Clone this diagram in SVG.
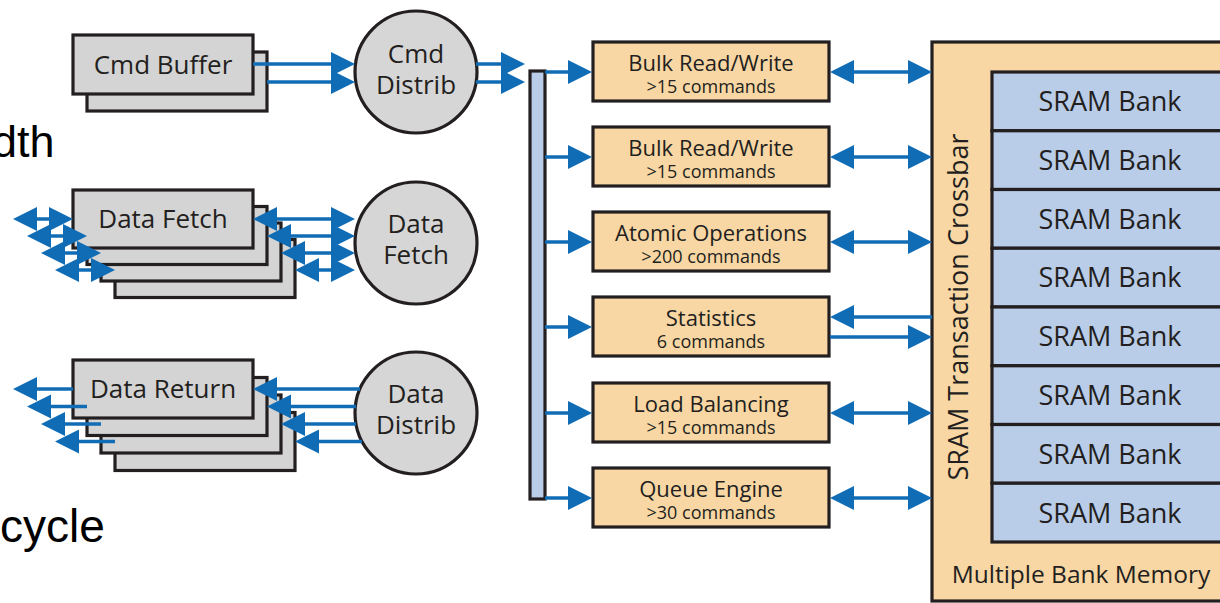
<svg xmlns="http://www.w3.org/2000/svg" width="1220" height="603" viewBox="0 0 1220 603">
  <style>
    .bg { font-family: "Liberation Sans", Arial, sans-serif; font-size: 45px; fill: #000; }
    .lbl { font-family: "Open Sans", "Noto Sans", sans-serif; fill: #231f20; text-anchor: middle; }
    .box { fill: #d4d4d4; stroke: #231f20; stroke-width: 3.2; }
    .circ { fill: #d6d6d6; stroke: #231f20; stroke-width: 3.2; }
    .eng { fill: #f8d7a4; stroke: #231f20; stroke-width: 3.2; }
    .mem { fill: #f8d7a4; stroke: #231f20; stroke-width: 3.2; }
    .bank { fill: #b9cce8; stroke: #231f20; stroke-width: 3.2; }
    .bar { fill: #b9cce8; stroke: #231f20; stroke-width: 3.2; }
    .t1 { font-size: 26px; }
    .tc { font-size: 26px; }
    .te { font-size: 22px; }
    .ts { font-size: 18px; }
    .tb { font-size: 27px; }
    .tm { font-size: 24.5px; }
    #connectors line { stroke: #106cb4; stroke-width: 3.6; fill: none; }
    .one { marker-end: url(#head); }
    .two { marker-start: url(#head); marker-end: url(#head); }
  </style>
  <defs>
    <marker id="head" markerUnits="userSpaceOnUse" markerWidth="26" markerHeight="26" refX="13" refY="12" orient="auto-start-reverse" viewBox="0 0 26 26">
      <path d="M0,0 L24,12 L0,24 Z" fill="#106cb4"/>
    </marker>
  </defs>

  <rect width="1220" height="603" fill="#ffffff"/>

  <!-- slide text partly hidden behind the figure -->
  <text class="bg" x="-8" y="157">dth</text>
  <text class="bg" x="0" y="542" style="font-size:46px">cycle</text>

  <!-- command buffer (two stacked) -->
  <g id="cmd-buffer">
    <rect class="box" x="87" y="52" width="180" height="59"/>
    <rect class="box" x="73" y="35" width="180" height="59"/>
    <text class="lbl t1" x="163" y="74">Cmd Buffer</text>
  </g>

  <!-- data fetch (four stacked) -->
  <g id="data-fetch">
    <rect class="box" x="115" y="239.5" width="180" height="58"/>
    <rect class="box" x="101" y="223" width="180" height="58"/>
    <rect class="box" x="87" y="206.5" width="180" height="58"/>
    <rect class="box" x="73" y="190" width="180" height="58"/>
    <text class="lbl t1" x="163" y="228">Data Fetch</text>
  </g>

  <!-- data return (four stacked) -->
  <g id="data-return">
    <rect class="box" x="115" y="412.5" width="180" height="58"/>
    <rect class="box" x="101" y="395" width="180" height="58"/>
    <rect class="box" x="87" y="377.5" width="180" height="58"/>
    <rect class="box" x="73" y="360" width="180" height="58"/>
    <text class="lbl t1" x="163" y="398">Data Return</text>
  </g>

  <g id="cmd-distrib">
    <circle class="circ" cx="416" cy="72" r="61"/>
    <text class="lbl tc" x="416" y="63">Cmd</text>
    <text class="lbl tc" x="416" y="94">Distrib</text>
  </g>

  <g id="data-fetch-unit">
    <circle class="circ" cx="416" cy="243" r="61"/>
    <text class="lbl tc" x="416" y="233">Data</text>
    <text class="lbl tc" x="416" y="264">Fetch</text>
  </g>

  <g id="data-distrib">
    <circle class="circ" cx="416" cy="413" r="61"/>
    <text class="lbl tc" x="416" y="403">Data</text>
    <text class="lbl tc" x="416" y="434">Distrib</text>
  </g>

  <!-- command bus -->
  <g id="bus">
    <rect class="bar" x="530" y="71" width="15" height="428"/>
  </g>

  <!-- processing engines -->
  <g id="bulk-rw-1">
    <rect class="eng" x="593" y="42" width="236" height="59"/>
    <text class="lbl te" x="711" y="71">Bulk Read/Write</text>
    <text class="lbl ts" x="711" y="93">&gt;15 commands</text>
  </g>
  <g id="bulk-rw-2">
    <rect class="eng" x="593" y="127" width="236" height="59"/>
    <text class="lbl te" x="711" y="156">Bulk Read/Write</text>
    <text class="lbl ts" x="711" y="178">&gt;15 commands</text>
  </g>
  <g id="atomic">
    <rect class="eng" x="593" y="212" width="236" height="59"/>
    <text class="lbl te" x="711" y="241">Atomic Operations</text>
    <text class="lbl ts" x="711" y="263">&gt;200 commands</text>
  </g>
  <g id="statistics">
    <rect class="eng" x="593" y="297" width="236" height="59"/>
    <text class="lbl te" x="711" y="326">Statistics</text>
    <text class="lbl ts" x="711" y="348">6 commands</text>
  </g>
  <g id="load-balancing">
    <rect class="eng" x="593" y="383" width="236" height="59"/>
    <text class="lbl te" x="711" y="412">Load Balancing</text>
    <text class="lbl ts" x="711" y="434">&gt;15 commands</text>
  </g>
  <g id="queue-engine">
    <rect class="eng" x="593" y="468" width="236" height="59"/>
    <text class="lbl te" x="711" y="497">Queue Engine</text>
    <text class="lbl ts" x="711" y="519">&gt;30 commands</text>
  </g>

  <!-- memory: crossbar frame with eight banks -->
  <g id="memory">
    <rect class="mem" x="932" y="42" width="310" height="559"/>
    <text class="lbl tb" transform="translate(968,307) rotate(-90)">SRAM Transaction Crossbar</text>
    <g id="banks">
      <rect class="bank" x="992" y="72" width="250" height="58.75"/>
      <rect class="bank" x="992" y="130.75" width="250" height="58.75"/>
      <rect class="bank" x="992" y="189.5" width="250" height="58.75"/>
      <rect class="bank" x="992" y="248.25" width="250" height="58.75"/>
      <rect class="bank" x="992" y="307" width="250" height="58.75"/>
      <rect class="bank" x="992" y="365.75" width="250" height="58.75"/>
      <rect class="bank" x="992" y="424.5" width="250" height="58.75"/>
      <rect class="bank" x="992" y="483.25" width="250" height="58.75"/>
      <text class="lbl tb" x="1110" y="111">SRAM Bank</text>
      <text class="lbl tb" x="1110" y="170">SRAM Bank</text>
      <text class="lbl tb" x="1110" y="229">SRAM Bank</text>
      <text class="lbl tb" x="1110" y="287">SRAM Bank</text>
      <text class="lbl tb" x="1110" y="346">SRAM Bank</text>
      <text class="lbl tb" x="1110" y="405">SRAM Bank</text>
      <text class="lbl tb" x="1110" y="464">SRAM Bank</text>
      <text class="lbl tb" x="1110" y="523">SRAM Bank</text>
    </g>
    <text class="lbl tm" x="1081" y="583">Multiple Bank Memory</text>
  </g>

  <g id="connectors">
    <!-- command path -->
    <line class="one" x1="253" y1="64" x2="344" y2="64"/>
    <line class="one" x1="267" y1="82" x2="344" y2="82"/>
    <line class="one" x1="476" y1="64" x2="514" y2="64"/>
    <line class="one" x1="476" y1="82" x2="514" y2="82"/>

    <!-- data fetch: external side -->
    <line class="two" x1="24" y1="219" x2="62" y2="219"/>
    <line class="two" x1="38" y1="236" x2="76" y2="236"/>
    <line class="two" x1="52" y1="253" x2="90" y2="253"/>
    <line class="two" x1="66" y1="270" x2="104" y2="270"/>
    <!-- data fetch: unit side -->
    <line class="two" x1="264" y1="219" x2="344" y2="219"/>
    <line class="two" x1="278" y1="236" x2="344" y2="236"/>
    <line class="two" x1="292" y1="253" x2="344" y2="253"/>
    <line class="two" x1="306" y1="270" x2="344" y2="270"/>

    <!-- data return: external side -->
    <line class="one" x1="73" y1="389" x2="24" y2="389"/>
    <line class="one" x1="87" y1="406.5" x2="38" y2="406.5"/>
    <line class="one" x1="101" y1="424" x2="52" y2="424"/>
    <line class="one" x1="115" y1="441.5" x2="66" y2="441.5"/>
    <!-- data return: from distributor -->
    <line class="one" x1="360" y1="389" x2="264" y2="389"/>
    <line class="one" x1="356" y1="406.5" x2="278" y2="406.5"/>
    <line class="one" x1="356" y1="424" x2="292" y2="424"/>
    <line class="one" x1="362" y1="441.5" x2="306" y2="441.5"/>

    <!-- bus to engines -->
    <line class="one" x1="545" y1="72" x2="581" y2="72"/>
    <line class="one" x1="545" y1="157" x2="581" y2="157"/>
    <line class="one" x1="545" y1="242" x2="581" y2="242"/>
    <line class="one" x1="545" y1="327" x2="581" y2="327"/>
    <line class="one" x1="545" y1="413" x2="581" y2="413"/>
    <line class="one" x1="545" y1="498" x2="581" y2="498"/>

    <!-- engines to crossbar -->
    <line class="two" x1="841" y1="72" x2="921" y2="72"/>
    <line class="two" x1="841" y1="157" x2="921" y2="157"/>
    <line class="two" x1="841" y1="242" x2="921" y2="242"/>
    <line class="one" x1="932" y1="317" x2="841" y2="317"/>
    <line class="one" x1="830" y1="337" x2="921" y2="337"/>
    <line class="two" x1="841" y1="413" x2="921" y2="413"/>
    <line class="two" x1="841" y1="498" x2="921" y2="498"/>
  </g>
</svg>
